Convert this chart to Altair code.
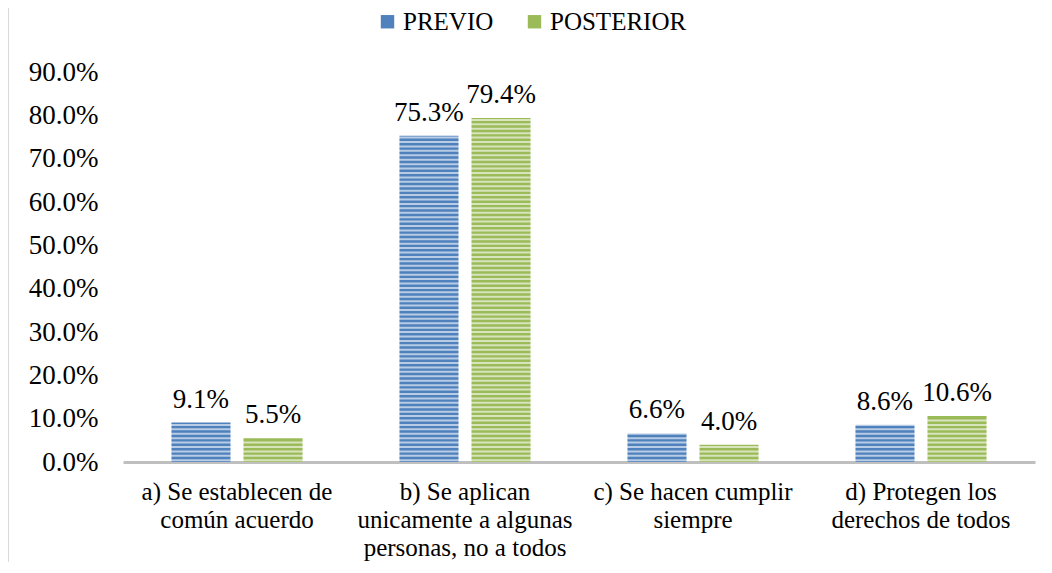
import altair as alt
import pandas as pd

categories = [
    "a) Se establecen de|común acuerdo",
    "b) Se aplican|unicamente a algunas|personas, no a todos",
    "c) Se hacen cumplir|siempre",
    "d) Protegen los|derechos de todos",
]
series = ["PREVIO", "POSTERIOR"]
previo = [0.091, 0.753, 0.066, 0.086]
posterior = [0.055, 0.794, 0.040, 0.106]
y_ticks = [0, 0.1, 0.2, 0.3, 0.4, 0.5, 0.6, 0.7, 0.8, 0.9]
colors = ["#4F81BD", "#9BBB59"]

rows = []
for c, a, b in zip(categories, previo, posterior):
    rows.append({"cat": c, "serie": "PREVIO", "value": a})
    rows.append({"cat": c, "serie": "POSTERIOR", "value": b})
df = pd.DataFrame(rows)

FONT = "Liberation Serif"

x_enc = alt.X("cat:N", sort=categories,
              scale=alt.Scale(paddingInner=0.425, paddingOuter=0.2125),
              axis=alt.Axis(title=None, labelAngle=0, labelExpr="split(datum.label, '|')",
                            labelFont=FONT, labelFontSize=25, labelColor="#000000",
                            labelLineHeight=28, labelPadding=17, ticks=False,
                            domainColor="#BFBFBF", domainWidth=3, labelLimit=300))
xoff = alt.XOffset("serie:N", sort=series, scale=alt.Scale(paddingInner=0.18))
y_enc = alt.Y("value:Q", scale=alt.Scale(domain=[0, 0.9], nice=False),
              axis=alt.Axis(title=None, values=y_ticks, format=".1%", grid=False,
                            domain=False, ticks=False, labelFont=FONT, labelFontSize=27,
                            labelColor="#000000", labelPadding=25))

base = alt.Chart(df)

bars = base.mark_bar().encode(
    x=x_enc, xOffset=xoff, y=y_enc,
    color=alt.Color("serie:N", sort=series,
                    scale=alt.Scale(domain=series, range=colors),
                    legend=alt.Legend(title=None, orient="none", direction="horizontal",
                                      legendX=252, legendY=-63, symbolType="square",
                                      symbolSize=180, symbolOpacity=1,
                                      labelFont=FONT, labelFontSize=25, labelColor="#000000",
                                      columnPadding=28, labelOffset=3)),
)

stripes = base.transform_calculate(
    s="sequence(0.004, datum.value, 0.0102)"
).transform_flatten(["s"]).mark_tick(
    orient="horizontal", thickness=2, size=60, color="#FFFFFF", opacity=0.6
).encode(
    x=alt.X("cat:N", sort=categories),
    xOffset=alt.XOffset("serie:N", sort=series),
    y=alt.Y("s:Q"),
)

labels = base.mark_text(baseline="bottom", dy=-9, font=FONT, fontSize=27, color="#000000").encode(
    x=alt.X("cat:N", sort=categories),
    xOffset=alt.XOffset("serie:N", sort=series),
    y=alt.Y("value:Q"),
    text=alt.Text("value:Q", format=".1%"),
)

border = alt.Chart(pd.DataFrame({"a": [0]})).mark_rule(color="#D9D9D9", strokeWidth=2).encode(
    x=alt.value(-115), y=alt.value(-72), y2=alt.value(520)
)

chart = alt.layer(bars, stripes, labels, border).properties(
    width=912, height=390,
    background="#FFFFFF",
    autosize=alt.AutoSizeParams(type="none"),
    padding={"left": 115, "top": 64, "right": 5, "bottom": 100},
).configure_view(strokeWidth=0)

chart.save("out.html", embed_options={"renderer": "svg", "actions": False})
